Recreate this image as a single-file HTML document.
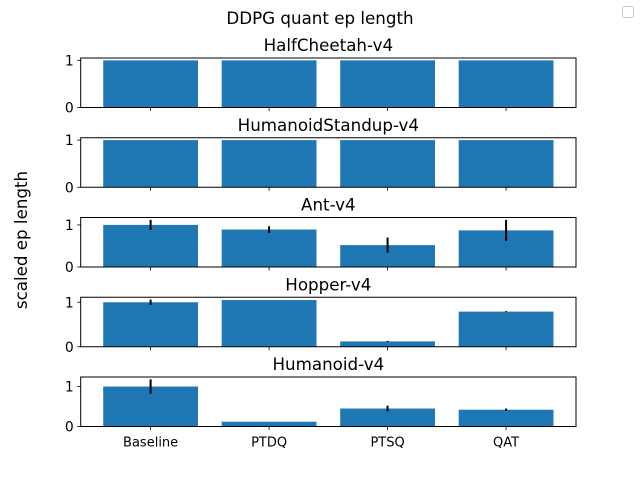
<!DOCTYPE html>
<html><head><meta charset="utf-8"><style>
body{margin:0;background:#fff;}
svg text{font-family:"DejaVu Sans","Liberation Sans",sans-serif;fill:#000;}
</style></head><body>
<svg id="chart" width="640" height="480" xmlns="http://www.w3.org/2000/svg">
<text x="320" y="24" font-size="16.7" text-anchor="middle">DDPG quant ep length</text>
<text x="27" y="240" font-size="16.7" text-anchor="middle" transform="rotate(-90 27 240)">scaled ep length</text>
<rect x="622.5" y="6.5" width="11" height="11" fill="#fff" stroke="#ccc" rx="2"/>
<g id="plots"></g>
</svg>
<script>
const categories = ["Baseline","PTDQ","PTSQ","QAT"];
const envs = ["HalfCheetah-v4","HumanoidStandup-v4","Ant-v4","Hopper-v4","Humanoid-v4"];
const halfCheetah = [1,1,1,1];
const humanoidStandup = [1,1,1,1];
const ant = [1.0,0.89,0.52,0.87];
const hopper = [1.0,1.05,0.12,0.79];
const humanoid = [1.0,0.12,0.45,0.42];
const halfCheetahErr = [0,0,0,0];
const humanoidStandupErr = [0,0,0,0];
const antErr = [0.12,0.08,0.18,0.25];
const hopperErr = [0.06,0,0.01,0.01];
const humanoidErr = [0.18,0,0.07,0.03];
const yTicks = [0,1];
const series = [halfCheetah,humanoidStandup,ant,hopper,humanoid];
const errs = [halfCheetahErr,humanoidStandupErr,antErr,hopperErr,humanoidErr];
const NS="http://www.w3.org/2000/svg";
const g=document.getElementById('plots');
const L=80.7,R=576,xmin=-0.59,xmax=3.59;
const xs=v=>L+(v-xmin)/(xmax-xmin)*(R-L);
function mk(t,a,p){const e=document.createElementNS(NS,t);for(const k in a)e.setAttribute(k,a[k]);(p||g).appendChild(e);return e;}
envs.forEach((env,si)=>{
  const top=58+si*79.75,h=49.5,bot=top+h;
  const vals=series[si],er=errs[si];
  let mx=0;vals.forEach((v,i)=>mx=Math.max(mx,v+er[i]));
  const ymax=mx*1.05;
  const ys=v=>bot-v/ymax*h;
  const sub=mk('g',{});
  
  
  const t=mk('text',{x:(L+R)/2,y:top-7,'font-size':16.7,'text-anchor':'middle'},sub);t.textContent=env;
  
  
  vals.forEach((v,i)=>{
    const bw=(xs(0.4)-xs(-0.4));
    const b=mk('rect',{x:xs(i-0.4),y:ys(v),width:bw,height:bot-ys(v),fill:'#1f77b4'},sub);
    
    
    if(er[i]>0){const e=mk('line',{x1:xs(i),x2:xs(i),y1:ys(v-er[i]),y2:ys(v+er[i]),stroke:'#000','stroke-width':2},sub);
      
      }
    mk('line',{x1:xs(i),x2:xs(i),y1:bot,y2:bot+3.5,stroke:'#000','stroke-width':0.8},sub);
    if(si===envs.length-1){const l=mk('text',{x:xs(i),y:bot+20,'font-size':13,'text-anchor':'middle'},sub);l.textContent=categories[i];
      
      }
  });
  yTicks.forEach(v=>{
    mk('line',{x1:L-3.5,x2:L,y1:ys(v),y2:ys(v),stroke:'#000','stroke-width':0.8},sub);
    const l=mk('text',{x:L-7,y:ys(v)+5,'font-size':13.9,'text-anchor':'end'},sub);l.textContent=v;
    
    
  });
  mk('rect',{x:L,y:top,width:R-L,height:h,fill:'none',stroke:'#000','stroke-width':1},sub);
});
</script>
</body></html>
